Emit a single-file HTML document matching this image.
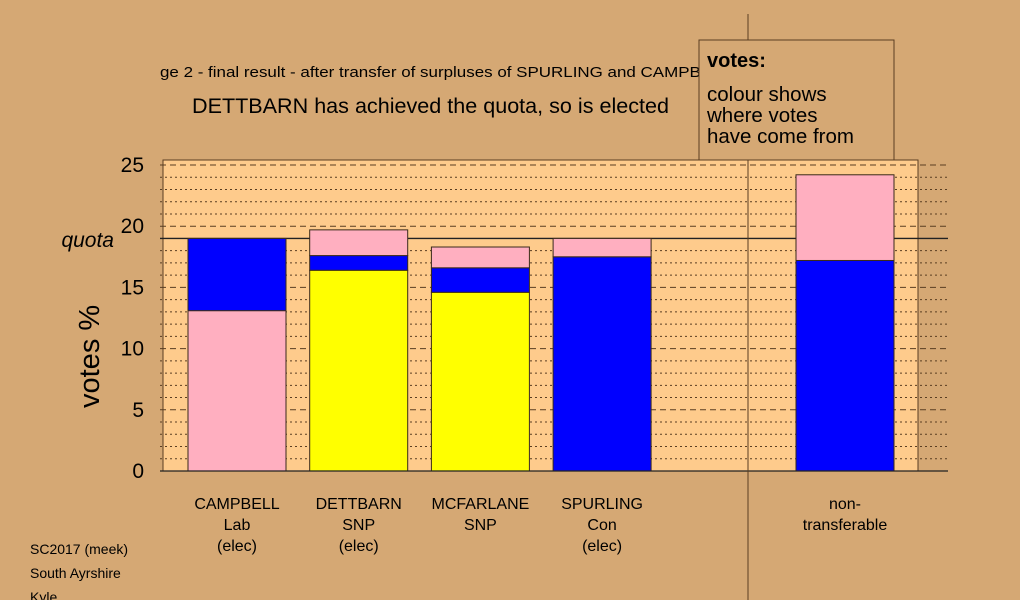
<!DOCTYPE html>
<html><head><meta charset="utf-8"><style>
html,body{margin:0;padding:0;background:#d5a874;}
svg{display:block;font-family:"Liberation Sans",sans-serif;}
</style></head><body>
<svg width="1020" height="600" viewBox="0 0 1020 600">
<rect x="0" y="0" width="1020" height="600" fill="#d5a874"/>
<rect x="163" y="160" width="755" height="311" fill="#fecb8c" stroke="#5a3e22" stroke-width="1"/>
<g id="grid"></g>
<g id="bars"></g>
<g id="axis"></g>
<line x1="748" y1="14" x2="748" y2="600" stroke="#5a3e22" stroke-width="1"/>
<text x="160" y="77" font-size="15" textLength="571" lengthAdjust="spacingAndGlyphs" fill="#000">ge 2 - final result - after transfer of surpluses of SPURLING and CAMPBELL</text>
<text x="192" y="113" font-size="21" textLength="477" lengthAdjust="spacingAndGlyphs" fill="#000">DETTBARN has achieved the quota, so is elected</text>
<g>
<rect x="699" y="40" width="195" height="120" fill="#d5a874" stroke="#5a3e22" stroke-width="1"/>
<text x="707" y="67" font-size="20" font-weight="bold">votes:</text>
<text x="707" y="101" font-size="20.5">colour shows</text>
<text x="707" y="122" font-size="20.5">where votes</text>
<text x="707" y="143" font-size="20.5">have come from</text>
</g>
<text x="99" y="408" font-size="29" transform="rotate(-90 99 408)">votes %</text>
<text x="114" y="247" font-size="21" font-style="italic" text-anchor="end">quota</text>
<g id="xlabels"></g>
<text x="30" y="554" font-size="14">SC2017 (meek)</text>
<text x="30" y="578" font-size="14">South Ayrshire</text>
<text x="30" y="602" font-size="14">Kyle</text>
</svg>
<script>
const categories=["CAMPBELL\nLab\n(elec)","DETTBARN\nSNP\n(elec)","MCFARLANE\nSNP","SPURLING\nCon\n(elec)","non-\ntransferable"];
const yellowVals=[0,16.4,14.6,0,0];
const blueVals=[5.9,1.2,2.0,17.5,17.2];
const pinkVals=[13.1,2.1,1.7,1.5,7.0];
const pinkFirst=[true,false,false,false,false];
const quota=19.0;
const yTicks=[0,5,10,15,20,25];
const NS="http://www.w3.org/2000/svg";
const y=v=>471-v*12.24;
const xPos=i=>(i<4?188+i*121.7:796);
const bw=98;
function mk(tag,attrs,parent){const e=document.createElementNS(NS,tag);for(const k in attrs)e.setAttribute(k,attrs[k]);parent.appendChild(e);return e;}
const grid=document.getElementById('grid');
for(let v=1;v<=25;v++){
 const l=mk('line',{x1:160,x2:948,y1:y(v),y2:y(v),stroke:'#5a3e22','stroke-width':1,'stroke-dasharray':v%5===0?'6,4':'2,3'},grid);
 
 
}
const ql=mk('line',{x1:160,x2:948,y1:y(quota),y2:y(quota),stroke:'#222','stroke-width':1.3},grid);


const bars=document.getElementById('bars');
categories.forEach((c,i)=>{
 let segs;
 if(pinkFirst[i]) segs=[['#ffafc0',pinkVals[i]],['#0000ff',blueVals[i]]];
 else segs=[['#ffff00',yellowVals[i]],['#0000ff',blueVals[i]],['#ffafc0',pinkVals[i]]];
 let base=0;
 segs.forEach(([col,v])=>{
  if(v<=0)return;
  const r=mk('rect',{x:xPos(i),y:y(base+v),width:bw,height:v*12.24,fill:col,stroke:'#3a2a1a','stroke-width':1},bars);
  
  
  base+=v;
 });
});
const base=mk('line',{x1:160,x2:948,y1:471,y2:471,stroke:'#222','stroke-width':1.3},bars);


const axis=document.getElementById('axis');
yTicks.forEach(v=>{
 const t=mk('text',{x:144,y:y(v)+7,'font-size':21,'text-anchor':'end'},axis);
 t.textContent=v;
 
 
});
const xl=document.getElementById('xlabels');
categories.forEach((c,i)=>{
 c.split('\n').forEach((ln,j)=>{
  const t=mk('text',{x:xPos(i)+bw/2,y:509+j*21,'font-size':16,'text-anchor':'middle'},xl);
  t.textContent=ln;
  
  
 });
});
</script>
</body></html>
